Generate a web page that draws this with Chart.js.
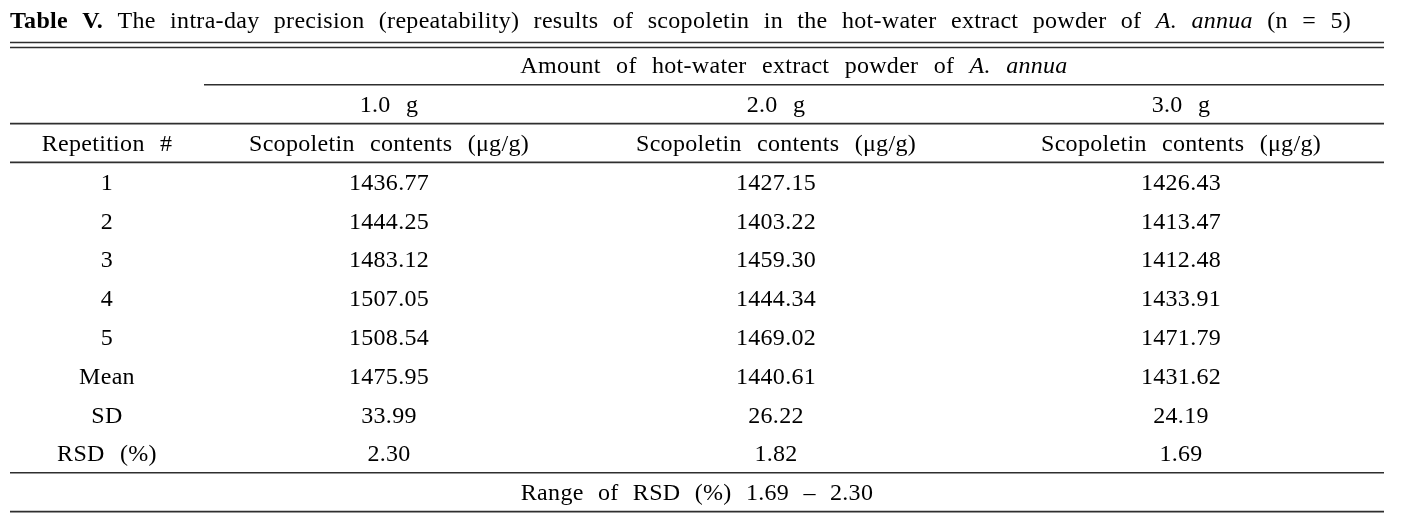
<!DOCTYPE html>
<html><head><meta charset="utf-8">
<script src="https://cdn.jsdelivr.net/npm/chart.js@4.4.1/dist/chart.umd.min.js"></script>
<style>html,body{margin:0;padding:0;background:#fff;}#wrap{position:relative;width:1403px;height:514px;}</style>
</head><body><div id="wrap"><canvas id="c"></canvas></div>
<script>
// ---- content ----
const titleLead = 'Table V.';
const titleBody = 'The intra-day precision (repeatability) results of scopoletin in the hot-water extract powder of';
const speciesName = 'A. annua';
const titleTail = '(n = 5)';
const groupHeader = 'Amount of hot-water extract powder of';
const amounts = ['1.0 g', '2.0 g', '3.0 g'];
const rowHeader = 'Repetition #';
const valueHeader = 'Scopoletin contents (μg/g)';
const rowLabels = ['1', '2', '3', '4', '5', 'Mean', 'SD', 'RSD (%)'];
const contents1g = [1436.77, 1444.25, 1483.12, 1507.05, 1508.54, 1475.95, 33.99, 2.30];
const contents2g = [1427.15, 1403.22, 1459.30, 1444.34, 1469.02, 1440.61, 26.22, 1.82];
const contents3g = [1426.43, 1413.47, 1412.48, 1433.91, 1471.79, 1431.62, 24.19, 1.69];
const footerLabel = 'Range of RSD (%)';
const rsdRange = [1.69, 2.30];

// ---- layout / style ----
const colWidths = [194, 370, 404, 406];
const FONT = '"Liberation Serif", "Times New Roman", serif';
const SIZE = 24;
const LETTER = '0.3px';
const WORD_GAP = 9;
const FOOTER_GAP = 8;
const TITLE_WIDTH = 1341;
const TEXT_COLOR = '#000';
const RULE_COLOR = '#2e2e2e';

const colLeft = i => colWidths.slice(0, i).reduce((a, b) => a + b, 0);
const colCenter = i => colLeft(i) + colWidths[i] / 2;
const spanCenter = (a, b) => (colLeft(a) + colLeft(b + 1)) / 2;
const totalWidth = colLeft(colWidths.length);
const rowKeys = ['hdrGroup', 'hdrAmount', 'hdrUnit', ...rowLabels, 'footer'];
const series = [contents1g, contents2g, contents3g];

function words(text, style) {
  return text.split(' ').filter(s => s.length).map(t => ({ t, s: style || '' }));
}

function drawWords(ctx, list, x, baseline, align, target, extraGap) {
  ctx.letterSpacing = LETTER;
  const widths = list.map(w => { ctx.font = w.s + SIZE + 'px ' + FONT; return ctx.measureText(w.t).width; });
  ctx.font = SIZE + 'px ' + FONT;
  const space = ctx.measureText(' ').width;
  const sum = widths.reduce((a, b) => a + b, 0);
  let gap = space + (extraGap != null ? extraGap : WORD_GAP);
  if (target && list.length > 1) gap = (target - sum) / (list.length - 1);
  const total = sum + gap * (list.length - 1);
  let px = align === 'center' ? x - total / 2 : x;
  ctx.textAlign = 'left';
  ctx.textBaseline = 'alphabetic';
  ctx.fillStyle = TEXT_COLOR;
  list.forEach((w, i) => {
    ctx.font = w.s + SIZE + 'px ' + FONT;
    ctx.fillText(w.t, px, baseline);
    px += widths[i] + gap;
  });
}

const tablePlugin = {
  id: 'tableText',
  afterDatasetsDraw(chart) {
    const { ctx, chartArea, scales: { x, y } } = chart;
    const rowPx = k => y.getPixelForValue(rowKeys.indexOf(k));
    const half = (y.getPixelForValue(1) - y.getPixelForValue(0)) / 2;
    const edge = i => y.getPixelForValue(i) - half;
    const base = c => c + 8;
    const L = chartArea.left, R = chartArea.right;
    ctx.save();
    // rules
    ctx.strokeStyle = RULE_COLOR;
    ctx.lineWidth = 1.6;
    const rule = (yy, x0, x1) => { ctx.beginPath(); ctx.moveTo(x0, yy); ctx.lineTo(x1, yy); ctx.stroke(); };
    rule(edge(0) - 3.5, L, R);
    rule(edge(0) + 1.5, L, R);
    rule(edge(1), x.getPixelForValue(colLeft(1)), R);
    rule(edge(2), L, R);
    rule(edge(3), L, R);
    rule(edge(rowKeys.length - 1), L, R);
    rule(edge(rowKeys.length), L, R);

    // title
    drawWords(ctx, [...words(titleLead, 'bold '), ...words(titleBody), ...words(speciesName, 'italic '), ...words(titleTail)],
      L, edge(0) - 18, 'left', TITLE_WIDTH);

    // headers
    drawWords(ctx, [...words(groupHeader), ...words(speciesName, 'italic ')],
      x.getPixelForValue(spanCenter(1, 3)), base(rowPx('hdrGroup')), 'center');
    amounts.forEach((a, k) => drawWords(ctx, words(a), x.getPixelForValue(colCenter(k + 1)), base(rowPx('hdrAmount')), 'center'));
    drawWords(ctx, words(rowHeader), x.getPixelForValue(colCenter(0)), base(rowPx('hdrUnit')), 'center');
    amounts.forEach((a, k) => drawWords(ctx, words(valueHeader), x.getPixelForValue(colCenter(k + 1)), base(rowPx('hdrUnit')), 'center'));

    // row labels
    rowLabels.forEach(r => drawWords(ctx, words(r), x.getPixelForValue(colCenter(0)), base(rowPx(r)), 'center'));

    // cell values from dataset elements
    chart.data.datasets.forEach((ds, k) => {
      const meta = chart.getDatasetMeta(k);
      meta.data.forEach((el, i) => {
        drawWords(ctx, words(ds.data[i].v.toFixed(2)), el.x, base(el.y), 'center');
      });
    });

    // footer
    drawWords(ctx, words(footerLabel + ' ' + rsdRange[0].toFixed(2) + ' – ' + rsdRange[1].toFixed(2)),
      x.getPixelForValue(totalWidth / 2), base(rowPx('footer')), 'center', null, FOOTER_GAP);
    ctx.restore();
  }
};

new Chart(document.getElementById('c'), {
  type: 'scatter',
  data: {
    datasets: series.map((vals, k) => ({
      label: amounts[k],
      data: vals.map((v, i) => ({ x: colCenter(k + 1), y: rowLabels[i], v })),
      pointRadius: 0,
      pointHoverRadius: 0,
      showLine: false
    }))
  },
  options: {
    responsive: true,
    maintainAspectRatio: false,
    animation: false,
    events: [],
    layout: { padding: { left: 10, right: 19, top: 46, bottom: 2.4 } },
    scales: {
      x: { type: 'linear', min: 0, max: totalWidth, display: false },
      y: { type: 'category', labels: rowKeys, offset: true, display: false }
    },
    plugins: { legend: { display: false }, tooltip: { enabled: false } }
  },
  plugins: [tablePlugin]
});
</script>
</body></html>
